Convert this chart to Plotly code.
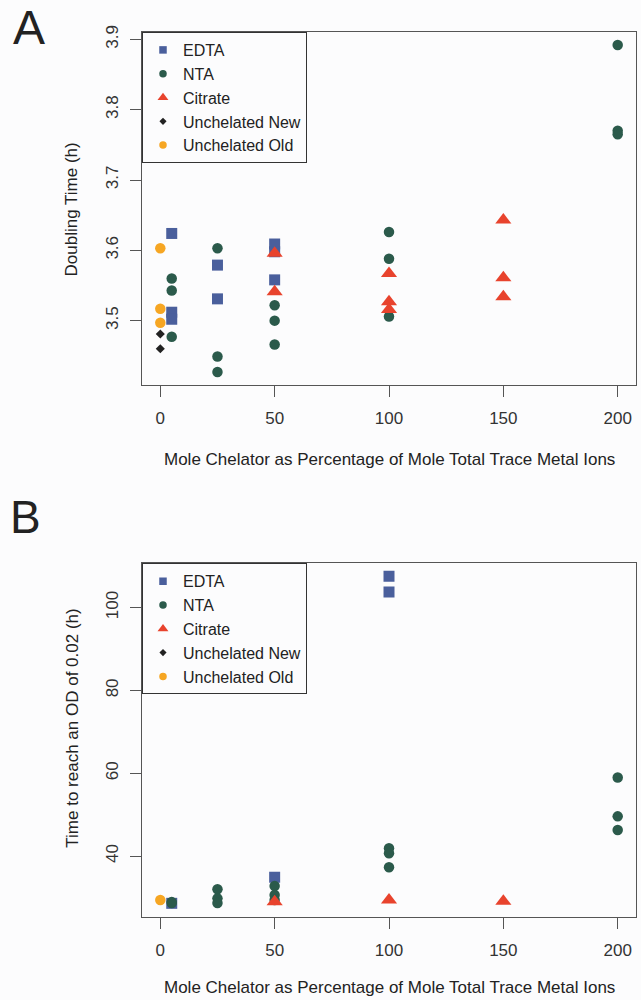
import plotly.graph_objects as go

# ---------------- data ----------------
x_ticks = [0, 50, 100, 150, 200]

# Panel A: doubling time (h)
edta_x_a = [5, 5, 5, 25, 25, 50, 50, 50]
edta_y_a = [3.624, 3.512, 3.502, 3.579, 3.531, 3.609, 3.598, 3.558]
nta_x_a = [5, 5, 5, 25, 25, 25, 50, 50, 50, 100, 100, 100, 200, 200, 200]
nta_y_a = [3.560, 3.543, 3.477, 3.603, 3.449, 3.427, 3.522, 3.500, 3.466,
           3.626, 3.588, 3.506, 3.892, 3.770, 3.765]
cit_x_a = [50, 50, 100, 100, 100, 150, 150, 150]
cit_y_a = [3.596, 3.541, 3.567, 3.527, 3.516, 3.643, 3.561, 3.534]
new_x_a = [0, 0]
new_y_a = [3.481, 3.460]
old_x_a = [0, 0, 0]
old_y_a = [3.603, 3.517, 3.497]
y_ticks_a = [3.5, 3.6, 3.7, 3.8, 3.9]

# Panel B: time to reach OD 0.02 (h)
edta_x_b = [5, 50, 100, 100]
edta_y_b = [28.6, 34.9, 107.6, 103.8]
nta_x_b = [5, 5, 25, 25, 25, 50, 50, 50, 100, 100, 100, 200, 200, 200]
nta_y_b = [28.9, 28.7, 32.0, 29.8, 28.7, 32.8, 30.6, 29.4,
           41.9, 40.7, 37.3, 59.0, 49.6, 46.3]
cit_x_b = [50, 100, 150]
cit_y_b = [29.0, 29.4, 29.1]
old_x_b = [0]
old_y_b = [29.4]
y_ticks_b = [40, 60, 80, 100]

names = ["EDTA", "NTA", "Citrate", "Unchelated New", "Unchelated Old"]

# ---------------- styles ----------------
C_EDTA = "#4a5f9c"
C_NTA = "#2b5a4b"
C_CIT = "#e8432d"
C_NEW = "#222222"
C_OLD = "#f6a623"
BG = "#fcfcfd"
AX = "#555555"
FONT = "Liberation Sans, Arial, sans-serif"

styles = {
    "EDTA": dict(symbol="square", color=C_EDTA, size=11),
    "NTA": dict(symbol="circle", color=C_NTA, size=10.5),
    "Citrate": dict(symbol="triangle-up", color=C_CIT, size=14),
    "Unchelated New": dict(symbol="diamond", color=C_NEW, size=7),
    "Unchelated Old": dict(symbol="circle", color=C_OLD, size=10.5),
}
legend_sizes = {"EDTA": 7.5, "NTA": 7.5, "Citrate": 9.5, "Unchelated New": 5.5,
                "Unchelated Old": 7.5}

fig = go.Figure()

panel_a = {
    "EDTA": (edta_x_a, edta_y_a),
    "NTA": (nta_x_a, nta_y_a),
    "Citrate": (cit_x_a, cit_y_a),
    "Unchelated New": (new_x_a, new_y_a),
    "Unchelated Old": (old_x_a, old_y_a),
}
panel_b = {
    "EDTA": (edta_x_b, edta_y_b),
    "NTA": (nta_x_b, nta_y_b),
    "Citrate": (cit_x_b, cit_y_b),
    "Unchelated Old": (old_x_b, old_y_b),
}

for panel, xa, ya, leg in [(panel_a, "x", "y", "legend"), (panel_b, "x2", "y2", "legend2")]:
    for n in names:
        if n in panel:
            xs, ys = panel[n]
            st = styles[n]
            fig.add_trace(go.Scatter(
                x=xs, y=ys, mode="markers", name=n, xaxis=xa, yaxis=ya,
                showlegend=False,
                marker=dict(symbol=st["symbol"], color=st["color"], size=st["size"],
                            line=dict(width=0)),
            ))
    # small legend symbols (legend-only entries)
    for n in names:
        st = styles[n]
        fig.add_trace(go.Scatter(
            x=[None], y=[None], mode="markers", name=n, xaxis=xa, yaxis=ya,
            legend=leg, showlegend=True,
            marker=dict(symbol=st["symbol"], color=st["color"], size=legend_sizes[n],
                        line=dict(width=0)),
        ))

# geometry (pixels)
W, H = 641, 1000
ML, MR, MT, MB = 142, 5, 32, 83
PW, PH = W - ML - MR, H - MT - MB


def py(p):
    return (H - MB - p) / PH


def px(p):
    return (p - ML) / PW


dom_a = [py(385), 1.0]
dom_b = [0.0, py(563.3)]

xaxis_common = dict(
    range=[-8, 208], tickvals=x_ticks, ticks="outside", ticklen=11, tickwidth=1,
    tickcolor=AX, showline=True, linecolor=AX, linewidth=1, mirror=True,
    showgrid=False, zeroline=False, tickfont=dict(size=17, color="#333", family=FONT),
    ticklabelstandoff=7,
)
yaxis_common = dict(
    ticks="outside", ticklen=11, tickwidth=1, tickcolor=AX, showline=True,
    linecolor=AX, linewidth=1, mirror=True, showgrid=False, zeroline=False,
    tickangle=-90, tickfont=dict(size=17, color="#333", family=FONT),
    ticklabelstandoff=5,
)

legend_common = dict(
    x=0, xanchor="left", yanchor="top", bgcolor=BG, bordercolor="#333",
    borderwidth=1, font=dict(size=16, color="#222", family=FONT),
    tracegroupgap=0, itemclick=False,
)

fig.update_layout(
    width=W, height=H, margin=dict(l=ML, r=MR, t=MT, b=MB),
    paper_bgcolor=BG, plot_bgcolor=BG, font=dict(family=FONT, color="#222"),
    xaxis=dict(domain=[0, 1], anchor="y", **xaxis_common),
    yaxis=dict(domain=dom_a, anchor="x", range=[3.4085, 3.9105], tickvals=y_ticks_a,
               tickformat=".1f", **yaxis_common),
    xaxis2=dict(domain=[0, 1], anchor="y2", **xaxis_common),
    yaxis2=dict(domain=dom_b, anchor="x2", range=[25.3, 110.7], tickvals=y_ticks_b,
                **yaxis_common),
    legend=dict(y=dom_a[1], **legend_common),
    legend2=dict(y=dom_b[1], **legend_common),
    showlegend=True,
)

xtitle = "Mole Chelator as Percentage of Mole Total Trace Metal Ions"
ann = [
    dict(text=xtitle, x=0.5, y=py(459), textangle=0, size=17),
    dict(text=xtitle, x=0.5, y=py(987), textangle=0, size=17),
    dict(text="Doubling Time (h)", x=px(70.5), y=py(210), textangle=-90, size=17),
    dict(text="Time to reach an OD of 0.02 (h)", x=px(71.7), y=py(728), textangle=-90, size=17),
    dict(text="A", x=px(28.5), y=py(27.5), textangle=0, size=48),
    dict(text="B", x=px(25.5), y=py(516.7), textangle=0, size=46),
]
for a in ann:
    fig.add_annotation(
        text=a["text"], x=a["x"], y=a["y"], xref="paper", yref="paper",
        xanchor="center", yanchor="middle", showarrow=False, textangle=a["textangle"],
        font=dict(size=a["size"], color="#222", family=FONT),
    )

fig.write_html("out.html", config={"displayModeBar": False},
               post_script="document.body.style.margin='0';")
